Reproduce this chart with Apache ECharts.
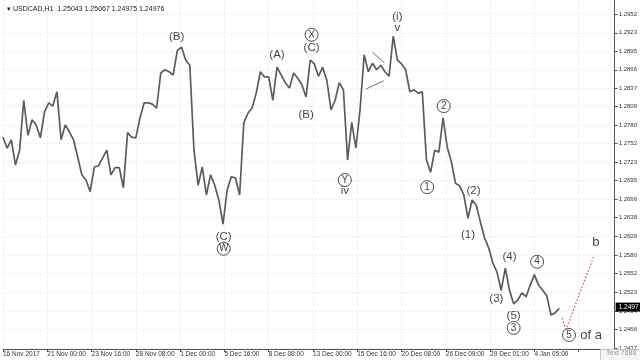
<!DOCTYPE html>
<html>
<head>
<meta charset="utf-8">
<script src="https://cdn.jsdelivr.net/npm/echarts@6/dist/echarts.min.js"></script>
<style>html,body{margin:0;padding:0;background:#fff;}#c{width:640px;height:360px;}</style>
</head>
<body>
<div id="c"></div>
<script>
// ---- data ----
const title = '\u25BE USDCAD,H1  1.25043 1.25067 1.24975 1.24976';
const timeLabels = ['16 Nov 2017','21 Nov 00:00','23 Nov 16:00','28 Nov 08:00','1 Dec 00:00','5 Dec 16:00','8 Dec 08:00','13 Dec 00:00','15 Dec 16:00','20 Dec 08:00','26 Dec 09:00','29 Dec 01:00','4 Jan 05:00'];
const barsPerLabel = 64;
const barStep = 6; // hourly bars between samples
const priceTicks = [1.2952,1.2923,1.2895,1.2866,1.2837,1.2809,1.2780,1.2752,1.2723,1.2695,1.2666,1.2638,1.2609,1.2580,1.2552,1.2523,1.2494,1.2466,1.2437];
const closes = [
1.2762,1.2745,1.2758,1.2719,1.2742,1.2819,1.2765,1.2789,1.2781,1.2761,
1.2801,1.2815,1.2810,1.2832,1.2758,1.2781,1.2770,1.2758,1.2731,1.2704,
1.2696,1.2678,1.2716,1.2718,1.2730,1.2742,1.2704,1.2715,1.2715,1.2684,
1.2769,1.2762,1.2761,1.2792,1.2815,1.2815,1.2813,1.2807,1.2861,1.2866,
1.2863,1.2858,1.2896,1.2901,1.2881,1.2873,1.2742,1.2688,1.2716,1.2673,
1.2704,1.2688,1.2665,1.2628,1.2681,1.2701,1.2699,1.2673,1.2784,1.2799,
1.2807,1.2830,1.2863,1.2855,1.2855,1.2819,1.2870,1.2858,1.2846,1.2838,
1.2861,1.2853,1.2843,1.2824,1.2881,1.2875,1.2856,1.2870,1.2850,1.2804,
1.2819,1.2846,1.2835,1.2727,1.2785,1.2745,1.2804,1.2889,1.2863,1.2876,
1.2866,1.2873,1.2863,1.2856,1.2918,1.2881,1.2875,1.2866,1.2832,1.2835,
1.2830,1.2832,1.2727,1.2708,1.2742,1.2739,1.2792,1.2747,1.2724,1.2691,
1.2687,1.2673,1.2637,1.2665,1.2657,1.2631,1.2607,1.2591,1.2568,1.2554,
1.2526,1.2560,1.2526,1.2505,1.2511,1.2522,1.2516,1.2534,1.2550,1.2534,
1.2526,1.2517,1.2488,1.2491,1.2498
];
const lastPrice = 1.24976;
// projected path (bar index, price)
const projBars = [808, 814, 854];
const projPrices = [1.2483, 1.2466, 1.2579];
// triangle trendlines
const upperBars = [534, 551], upperPrices = [1.2893, 1.2877];
const lowerBars = [524, 550], lowerPrices = [1.2836, 1.2849];
// wave annotations
const annoText = ['(B)','(C)','W','(A)','X','(C)','(B)','(i)','v','Y','iv','2','1','(2)','(1)','(4)','4','(3)','(5)','3','5','of a','b'];
const annoCircled = [0,0,1,0,1,0,0,0,0,1,0,1,1,0,0,0,1,0,0,1,1,0,0];
const annoBar = [251,319,319,396,446,446,438,570,570,494,494,637,613,680,672,732,772,713,738,738,818,850,857];
const annoPrice = [1.2917,1.2608,1.2590,1.2889,1.2920,1.2900,1.2796,1.2947,1.2930,1.2696,1.2679,1.2810,1.2685,1.2679,1.2611,1.2577,1.2570,1.2513,1.2486,1.2468,1.2457,1.2457,1.2599];

// ---- build ----
const priceData = closes.map((p, i) => [i * barStep, p]);
const projData = projBars.map((b, i) => [b, projPrices[i]]);
const annoData = annoText.map((t, i) => ({
  value: [annoBar[i], annoPrice[i]],
  label: { formatter: annoCircled[i] ? '{c|' + t + '}' : (t === 'of a' || t === 'b' ? '{big|' + t + '}' : t) }
}));
const truncate4 = v => (Math.floor(v * 10000 + 1e-7) / 10000).toFixed(4);

const chart = echarts.init(document.getElementById('c'), null, {renderer: 'canvas'});
chart.setOption({
  animation: false,
  backgroundColor: '#ffffff',
  textStyle: { fontFamily: 'Liberation Sans, Arial, sans-serif' },
  title: {
    text: title, left: 2, top: 1,
    textStyle: { fontSize: 7, fontWeight: 'normal', color: '#222' }
  },
  grid: { left: 0, right: 24, top: 0, bottom: 11, containLabel: false },
  xAxis: {
    type: 'value', min: 0, max: 884, interval: barsPerLabel,
    axisLine: { show: true, lineStyle: { color: '#555', width: 1 } },
    axisTick: { show: true, length: 3, inside: false, lineStyle: { color: '#555' } },
    axisLabel: {
      show: true, align: 'left', margin: 2, fontSize: 6.5, color: '#333',
      showMaxLabel: false,
      formatter: v => timeLabels[Math.round(v / barsPerLabel)] || ''
    },
    splitLine: { show: true, lineStyle: { color: '#ececec', type: [2, 2] } }
  },
  yAxis: {
    type: 'value', position: 'right', min: 1.24354, max: 1.29736,
    axisLine: { show: true, onZero: false, lineStyle: { color: '#555', width: 1 } },
    axisTick: { show: true, length: 3, lineStyle: { color: '#555' }, customValues: priceTicks },
    axisLabel: {
      show: true, fontSize: 6, color: '#333', margin: 4,
      customValues: priceTicks, formatter: v => v.toFixed(4)
    },
    splitLine: { show: true, lineStyle: { color: '#ececec', type: [2, 2] } }
  },
  series: [
    {
      name: 'USDCAD', type: 'line', data: priceData, showSymbol: false,
      lineStyle: { color: '#5c5c5c', width: 1.7 }, z: 3,
      markLine: {
        silent: true, symbol: 'none', z: 20,
        lineStyle: { color: 'rgba(0,0,0,0)', width: 0.1, type: 'solid' },
        label: {
          show: true, position: 'end', distance: 1,
          backgroundColor: '#000', color: '#fff', fontSize: 6.5, padding: [1, 3, 1, 3],
          formatter: () => truncate4(lastPrice)
        },
        data: [{ yAxis: lastPrice }]
      }
    },
    {
      name: 'projection', type: 'line', data: projData, showSymbol: false,
      lineStyle: { color: '#e0474c', width: 1.2, type: [1.5, 2] }, z: 4
    },
    {
      name: 'upper', type: 'line', data: upperBars.map((b, i) => [b, upperPrices[i]]),
      showSymbol: false, lineStyle: { color: '#444', width: 0.8 }, z: 4
    },
    {
      name: 'lower', type: 'line', data: lowerBars.map((b, i) => [b, lowerPrices[i]]),
      showSymbol: false, lineStyle: { color: '#444', width: 0.8 }, z: 4
    },
    {
      name: 'waves', type: 'scatter', data: annoData, symbolSize: 0, z: 5,
      label: {
        show: true, position: 'inside', color: '#111', fontSize: 11.5,
        rich: {
          c: { width: 11, height: 11, lineHeight: 11, align: 'center', borderRadius: 6.5,
               borderColor: '#222', borderWidth: 1, padding: [1, 1, 1, 1], fontSize: 10, color: '#111' },
          big: { fontSize: 13, color: '#111' }
        }
      }
    }
  ],
  graphic: [
    { type: 'rect', left: 600, top: 349, shape: { width: 40, height: 11 },
      style: { fill: '#f4f4f4', stroke: '#c8c8c8', lineWidth: 1 }, z: 10 },
    { type: 'text', left: 606, top: 350, z: 11,
      style: { text: 'Text 7688', fontSize: 7, fill: '#9a9a9a', font: '7px Liberation Sans' } }
  ]
});
</script>
</body>
</html>
